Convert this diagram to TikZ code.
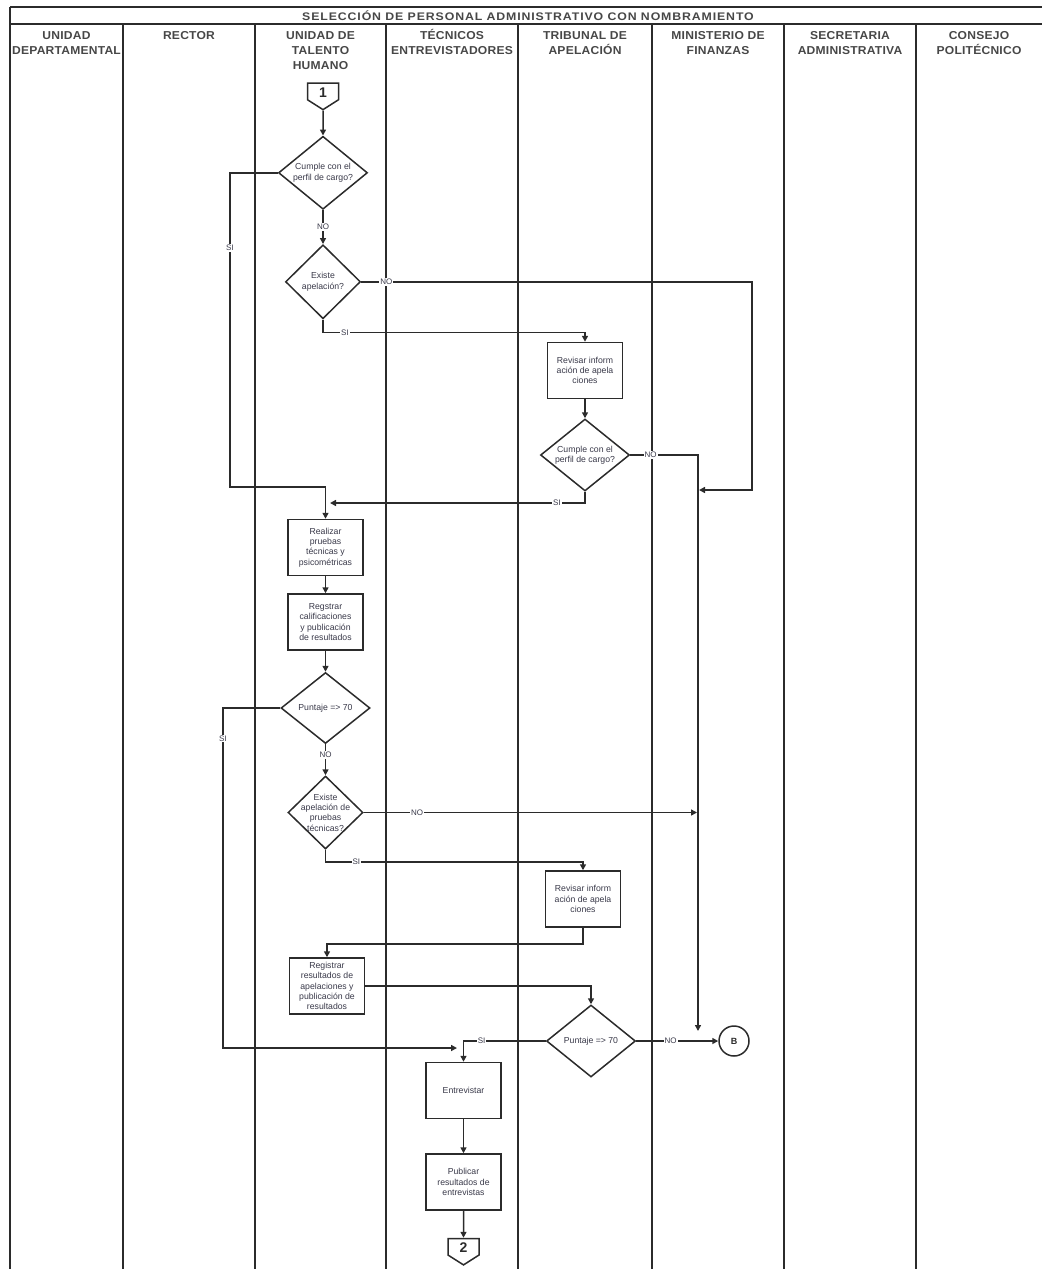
\documentclass[tikz,border=0pt]{standalone}
\usepackage{fontspec}
\setmainfont{Liberation Sans}
\newfontfamily\titlefont{Liberation Sans}[FakeStretch=1.12, LetterSpace=8]
\newfontfamily\headfont{Liberation Sans}[FakeStretch=1.05, LetterSpace=2]
\usepackage{tikz}
\usetikzlibrary{arrows.meta,positioning,shapes.geometric,shapes.symbols}
\definecolor{Ink}{HTML}{2B2B2B}
\definecolor{HeadInk}{HTML}{474747}
\definecolor{TextInk}{HTML}{3A3A4A}
\tikzset{
  taskbox/.style={draw=Ink, line width=1.5pt, fill=white, align=center, minimum width=75pt, minimum height=56pt, inner sep=1pt, font=\fontsize{8.7}{10.3}\selectfont, text=TextInk},
  decision/.style={draw=Ink, line width=1.5pt, diamond, fill=white, align=center, inner sep=-12pt, font=\fontsize{8.7}{10.3}\selectfont, text=TextInk},
  offpage/.style={draw=Ink, line width=1.5pt, signal, signal to=south, signal pointer angle=115, minimum width=31pt, minimum height=19pt, text height=12pt, inner sep=0pt, font=\bfseries\fontsize{14}{14}\selectfont, text=Ink},
  connector/.style={draw=Ink, line width=1.5pt, circle, minimum size=30pt, inner sep=0pt, font=\bfseries\fontsize{9}{9}\selectfont, text=Ink},
  lanehead/.style={anchor=north, align=center, font=\headfont\bfseries\fontsize{11.5}{15}\selectfont, text=HeadInk},
  lane/.style={draw=Ink, line width=1.5pt},
  answer/.style={fill=white, inner sep=1pt, font=\fontsize{8}{8}\selectfont, text=TextInk},
  arrow/.style={-{Triangle[length=6pt, width=6pt]}, line width=1.5pt, draw=Ink}
}

\begin{document}
\begin{tikzpicture}[x=1pt, y=-1pt]
  \useasboundingbox (0,0) rectangle (1042,1269);
  \draw[lane] (10,7) -- (1042,7);
  \draw[lane] (10,24) -- (1042,24);
  \draw[lane] (10,7) -- (10,1269);
  \foreach \x in {123,255,386,518,652,784,916}
    \draw[lane] (\x,24) -- (\x,1269);

  \node[font=\titlefont\bfseries\fontsize{11}{11}\selectfont, text=HeadInk] (title) at (528,15.5) {SELECCIÓN DE PERSONAL ADMINISTRATIVO CON NOMBRAMIENTO};
  \node[lanehead] (departamental) at (66.5,28) {UNIDAD\\DEPARTAMENTAL};
  \node[lanehead] (rector) at (189,28) {RECTOR};
  \node[lanehead] (talento) at (320.5,28) {UNIDAD DE\\TALENTO\\HUMANO};
  \node[lanehead] (tecnicos) at (452,26) {TÉCNICOS\\ENTREVISTADORES};
  \node[lanehead] (tribunal) at (585,28) {TRIBUNAL DE\\APELACIÓN};
  \node[lanehead] (ministerio) at (718,28) {MINISTERIO DE\\FINANZAS};
  \node[lanehead] (secretaria) at (850,28) {SECRETARIA\\ADMINISTRATIVA};
  \node[lanehead] (consejo) at (979,28) {CONSEJO\\POLITÉCNICO};

  \node[offpage] (start) at (323,91.5) {1};
  \node[decision, below=25pt of start, minimum width=89pt, minimum height=73pt] (cumple1) {Cumple con el\\perfil de cargo?};
  \node[decision, below=34pt of cumple1, minimum width=75pt, minimum height=74pt] (apela1) {Existe\\apelación?};
  \node[taskbox] (revisar1) at (585,370.5) {Revisar inform\\ación de apela\\ciones};
  \node[decision, below=19pt of revisar1, minimum width=89pt, minimum height=72pt] (cumple2) {Cumple con el\\perfil de cargo?};
  \node[taskbox] (pruebas) at (325.5,547.5) {Realizar\\pruebas\\técnicas y\\psicométricas};
  \node[taskbox, below=17pt of pruebas] (registrar1) {Regstrar\\calificaciones\\y publicación\\de resultados};
  \node[decision, below=21pt of registrar1, minimum width=89pt, minimum height=71pt] (puntaje1) {Puntaje => 70};
  \node[decision, below=31pt of puntaje1, minimum width=75pt, minimum height=73pt] (apela2) {Existe\\apelación de\\pruebas\\técnicas?};
  \node[taskbox] (revisar2) at (583,899) {Revisar inform\\ación de apela\\ciones};
  \node[taskbox] (registrar2) at (327,986) {Registrar\\resultados de\\apelaciones y\\publicación de\\resultados};
  \node[decision, minimum width=89pt, minimum height=72pt] (puntaje2) at (591,1041) {Puntaje => 70};
  \node[connector] (salidaB) at (734,1041) {B};
  \node[taskbox] (entrevistar) at (463.5,1090.5) {Entrevistar};
  \node[taskbox, below=34pt of entrevistar] (publicar) {Publicar\\resultados de\\entrevistas};
  \node[offpage, below=27pt of publicar] (next) {2};

  \draw[arrow] (start) -- (cumple1);
  \draw[arrow] (cumple1) -- node[answer] (no1) {NO} (apela1);
  \draw[arrow] (cumple1.west) -| node[answer, pos=0.62] (si1) {SI} (230,487) -| (pruebas.north);
  \draw[arrow] (apela1.east) -| node[answer, pos=0.032] (no2) {NO} (752,490) -- (699,490);
  \draw[arrow] (apela1.south) -- ++(0,13) -| node[answer, pos=0.042] (si2) {SI} (revisar1.north);
  \draw[arrow] (revisar1) -- (cumple2);
  \draw[arrow] (cumple2.east) -| node[answer, pos=0.15] (no3) {NO} (698,1031);
  \draw[arrow] (cumple2.south) |- node[answer, pos=0.555] (si3) {SI} (330,503);
  \draw[arrow] (pruebas) -- (registrar1);
  \draw[arrow] (registrar1) -- (puntaje1);
  \draw[arrow] (puntaje1) -- node[answer, pos=0.35] (no4) {NO} (apela2);
  \draw[arrow] (puntaje1.west) -| node[answer, pos=0.545] (si4) {SI} (223,1048) -- (457,1048);
  \draw[arrow] (apela2.east) -- node[answer, pos=0.16] (no5) {NO} (apela2.east -| 697,0);
  \draw[arrow] (apela2.south) -- ++(0,12) -| node[answer, pos=0.06] (si5) {SI} (revisar2.north);
  \draw[arrow] (revisar2.south) -- ++(0,16) -| (registrar2.north);
  \draw[arrow] (registrar2.east) -| (puntaje2.north);
  \draw[arrow] (puntaje2.west) -| node[answer, pos=0.39] (si6) {SI} (entrevistar.north);
  \draw[arrow] (puntaje2.east) -- node[answer, pos=0.42] (no6) {NO} (salidaB);
  \draw[arrow] (entrevistar) -- (publicar);
  \draw[arrow] (publicar) -- (next);
\end{tikzpicture}
\end{document}
